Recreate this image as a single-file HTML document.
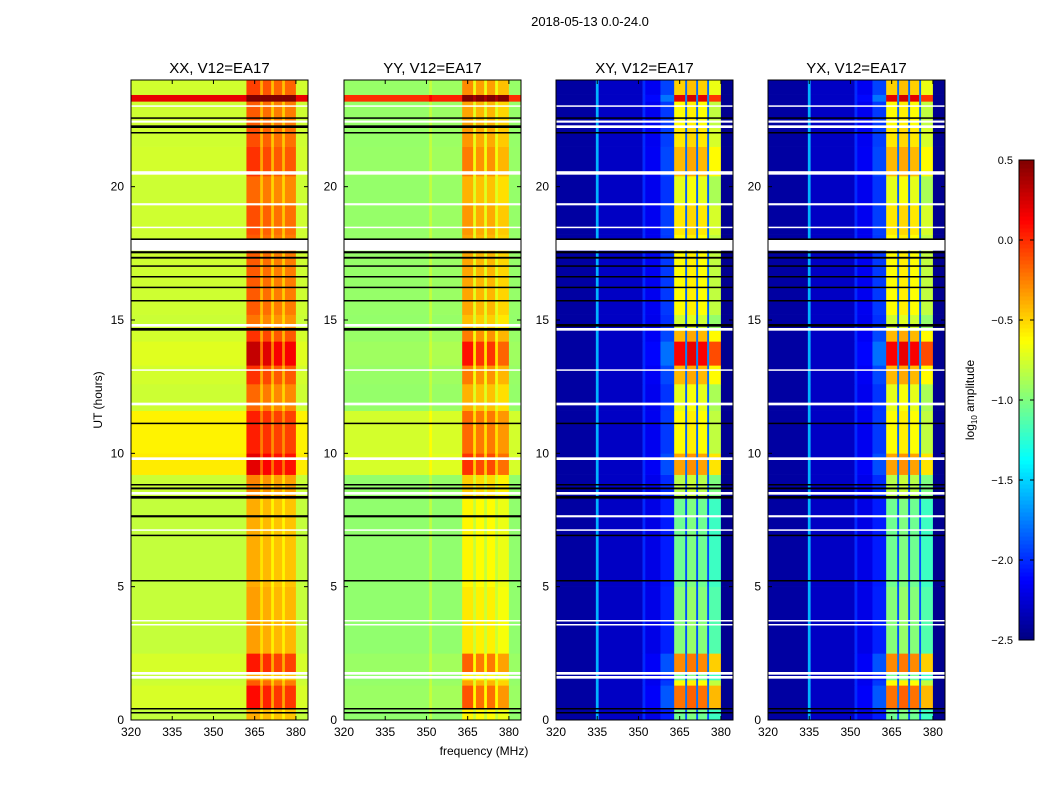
<!DOCTYPE html>
<html><head><meta charset="utf-8"><style>
body{margin:0;background:#fff;}
svg{display:block;font-family:"Liberation Sans",sans-serif;}
</style></head><body>
<svg id="fig" width="1050" height="800" viewBox="0 0 1050 800">
<rect width="1050" height="800" fill="#fff"/>
<text x="590" y="26" font-size="13" text-anchor="middle">2018-05-13 0.0-24.0</text>
<text x="484" y="755" font-size="12" text-anchor="middle">frequency (MHz)</text>
<text transform="translate(102,400) rotate(-90)" font-size="12" text-anchor="middle">UT (hours)</text>
<text transform="translate(974,400) rotate(-90)" font-size="12" text-anchor="middle">log<tspan font-size="8" dy="3">10</tspan><tspan dy="-3"> amplitude</tspan></text>
<g id="panels"></g>
<g id="cbar"></g>
</svg>
<script>
const panelTitles=["XX, V12=EA17","YY, V12=EA17","XY, V12=EA17","YX, V12=EA17"];
const panelLeft=[131,344,556,768];
const xTicks=[320,335,350,365,380];
const yTicks=[0,5,10,15,20];
const cbarTicks=[0.5,0.0,-0.5,-1.0,-1.5,-2.0,-2.5];
// frequency profiles per panel: [fStart,fEnd,baseLog10,rfiWeight]
const profXX=[[320,362,-0.8,0.1],[362,367,-0.38,0.8],[367,368,-0.55,0.4],[368,371,-0.42,0.75],[371,372,-0.6,0.4],[372,375,-0.45,0.7],[375,376,-0.6,0.4],[376,380,-0.45,0.7],[380,384.4,-0.8,0.1]];
const profYY=[[320,351,-0.95,0.05],[351,352,-0.82,0.05],[352,363,-0.95,0.1],[363,367,-0.6,0.8],[367,368,-0.8,0.3],[368,371,-0.62,0.7],[371,372,-0.8,0.3],[372,375,-0.62,0.7],[375,376,-0.8,0.3],[376,380,-0.68,0.6],[380,384.4,-0.95,0.05]];
const profXY=[[320,334.5,-2.4,0],[334.5,335.5,-1.6,0],[335.5,351.5,-2.3,0],[351.5,352.5,-2.0,0],[352.5,358,-2.2,0.1],[358,363,-2.05,0.3],[363,367,-1.05,1.4],[367,367.7,-1.9,0.2],[367.7,371,-1.0,1.4],[371,371.7,-1.9,0.2],[371.7,375,-1.05,1.4],[375,375.7,-1.9,0.2],[375.7,380,-1.2,1.3],[380,384.4,-2.45,0]];
const profYX=[[320,334.5,-2.4,0],[334.5,335.5,-1.6,0],[335.5,351.5,-2.3,0],[351.5,352.5,-2.0,0],[352.5,358,-2.2,0.1],[358,363,-2.05,0.3],[363,367,-1.05,1.4],[367,367.7,-1.9,0.2],[367.7,371,-1.0,1.4],[371,371.7,-1.9,0.2],[371.7,375,-1.05,1.4],[375,375.7,-1.9,0.2],[375.7,380,-1.2,1.3],[380,384.4,-2.45,0]];
const profiles=[profXX,profYY,profXY,profYX];
const broadFactor=[1,1,0,0];
// time segments: [tStart,tEnd,rfiGain,broadShift]
const timeSegs=[[0,0.4,0,0],[0.4,1.3,0.6,0],[1.3,1.5,0.3,0],[1.5,1.8,0,0],[1.8,2.5,0.55,0],[2.5,5,0.05,0],[5,8.3,0,0],[8.3,9.2,0.15,0],[9.2,10,0.5,0.18],[10,11.6,0.3,0.18],[11.6,12.6,0.25,0],[12.6,13.3,0.45,0],[13.3,14.2,0.85,0],[14.2,14.6,0.45,0],[14.6,15.2,0.2,0],[15.2,17.4,0.3,0],[17.4,18.2,0.3,0],[18.2,19.3,0.35,0],[19.3,20.4,0.25,0],[20.4,21.5,0.45,0],[21.5,22.2,0.35,0],[22.2,23.2,0.3,0],[23.2,23.45,0.9,0.9],[23.45,24,0.4,0]];
// flagged rows: [tStart,tEnd,colourParallel,colourCross]
const flags=[[0.25,0.3,'k','k'],[0.4,0.45,'k','k'],[1.55,1.65,'w','w'],[1.7,1.8,'w','w'],[3.55,3.6,'w','w'],[3.7,3.75,'w','w'],[5.2,5.25,'k','k'],[6.9,6.95,'k','k'],[7.1,7.15,'w','w'],[7.6,7.68,'k','w'],[8.3,8.4,'k','k'],[8.45,8.55,'w','w'],[8.65,8.72,'k','k'],[8.8,8.85,'k','k'],[9.75,9.85,'w','w'],[11.1,11.15,'k','k'],[11.8,11.9,'w','w'],[13.1,13.15,'w','w'],[14.6,14.7,'k','w'],[14.75,14.85,'w','k'],[15.7,15.75,'k','k'],[16.2,16.25,'k','k'],[16.6,16.65,'k','k'],[17.0,17.05,'k','k'],[17.3,17.37,'k','k'],[17.5,17.58,'k','k'],[17.6,18.0,'w','w'],[18.0,18.06,'k','k'],[18.45,18.5,'w','w'],[19.3,19.38,'w','w'],[20.45,20.58,'w','w'],[22.0,22.05,'k','k'],[22.2,22.3,'k','w'],[22.4,22.48,'w','w'],[22.55,22.6,'k','k'],[23.0,23.05,'w','w']];

const NS="http://www.w3.org/2000/svg";
const PW=177,TOP=80,BOT=720,FMIN=320,FMAX=384.4,TMAX=24,VMIN=-2.5,VMAX=0.5;
function jet(v){let t=(v-VMIN)/(VMAX-VMIN);t=Math.max(0,Math.min(1,t));
 const c=x=>Math.round(255*Math.max(0,Math.min(1,x)));
 return `rgb(${c(1.5-Math.abs(4*t-3))},${c(1.5-Math.abs(4*t-2))},${c(1.5-Math.abs(4*t-1))})`;}
function mk(tag,attrs,parent){const e=document.createElementNS(NS,tag);for(const k in attrs)e.setAttribute(k,attrs[k]);parent.appendChild(e);return e;}
const yOf=t=>BOT-(t/TMAX)*(BOT-TOP);
const panelsG=document.getElementById('panels');
profiles.forEach((prof,p)=>{
 const L=panelLeft[p];const xOf=f=>L+(f-FMIN)/(FMAX-FMIN)*PW;
 const g=mk('g',{},panelsG);
 
 
 timeSegs.forEach(ts=>{
  prof.forEach(fs=>{
   const v=fs[2]+ts[2]*fs[3]+ts[3]*broadFactor[p];
   const r=mk('rect',{x:xOf(fs[0]).toFixed(2),y:yOf(ts[1]).toFixed(2),width:(xOf(fs[1])-xOf(fs[0])+0.3).toFixed(2),height:(yOf(ts[0])-yOf(ts[1])+0.3).toFixed(2),fill:jet(v)},g);
   
   
  });
 });
 flags.forEach(fl=>{
  const c=(p<2?fl[2]:fl[3])==='k'?'#000':'#fff';
  const r=mk('rect',{x:L,y:yOf(fl[1]).toFixed(2),width:PW,height:Math.max(1.5,yOf(fl[0])-yOf(fl[1])).toFixed(2),fill:c},g);
  
  
 });
 const fr=mk('rect',{x:L,y:TOP,width:PW,height:BOT-TOP,fill:'none',stroke:'#000','stroke-width':1},g);
 
 
 const tt=mk('text',{x:L+PW/2,y:TOP-7,'font-size':15,'text-anchor':'middle'},g);tt.textContent=panelTitles[p];
 
 
 xTicks.forEach(f=>{const x=xOf(f);
  mk('line',{x1:x,x2:x,y1:BOT,y2:BOT-4,stroke:'#000'},g);mk('line',{x1:x,x2:x,y1:TOP,y2:TOP+4,stroke:'#000'},g);
  const t=mk('text',{x:x,y:BOT+16,'font-size':12,'text-anchor':'middle'},g);t.textContent=f;
  
  });
 yTicks.forEach(h=>{const y=yOf(h);
  mk('line',{x1:L,x2:L+4,y1:y,y2:y,stroke:'#000'},g);mk('line',{x1:L+PW,x2:L+PW-4,y1:y,y2:y,stroke:'#000'},g);
  const t=mk('text',{x:L-7,y:y+4,'font-size':12,'text-anchor':'end'},g);t.textContent=h;
  
  });
});
// colorbar
const cb=document.getElementById('cbar');const CX=1019,CW=15,CT=160,CB=640,N=120;
for(let i=0;i<N;i++){const v=VMIN+(i+0.5)/N*(VMAX-VMIN);const y=CB-(i+1)/N*(CB-CT);
 const r=mk('rect',{x:CX,y:y.toFixed(2),width:CW,height:((CB-CT)/N+0.5).toFixed(2),fill:jet(v)},cb);
 
 }
const cf=mk('rect',{x:CX,y:CT,width:CW,height:CB-CT,fill:'none',stroke:'#000'},cb);


cbarTicks.forEach(v=>{const y=CB-(v-VMIN)/(VMAX-VMIN)*(CB-CT);
 mk('line',{x1:CX,x2:CX+4,y1:y,y2:y,stroke:'#000'},cb);mk('line',{x1:CX+CW,x2:CX+CW-4,y1:y,y2:y,stroke:'#000'},cb);
 const t=mk('text',{x:1013,y:y+4,'font-size':11,'text-anchor':'end'},cb);t.textContent=v.toFixed(1).replace('-','\u2212');
 
 });
</script>
</body></html>
